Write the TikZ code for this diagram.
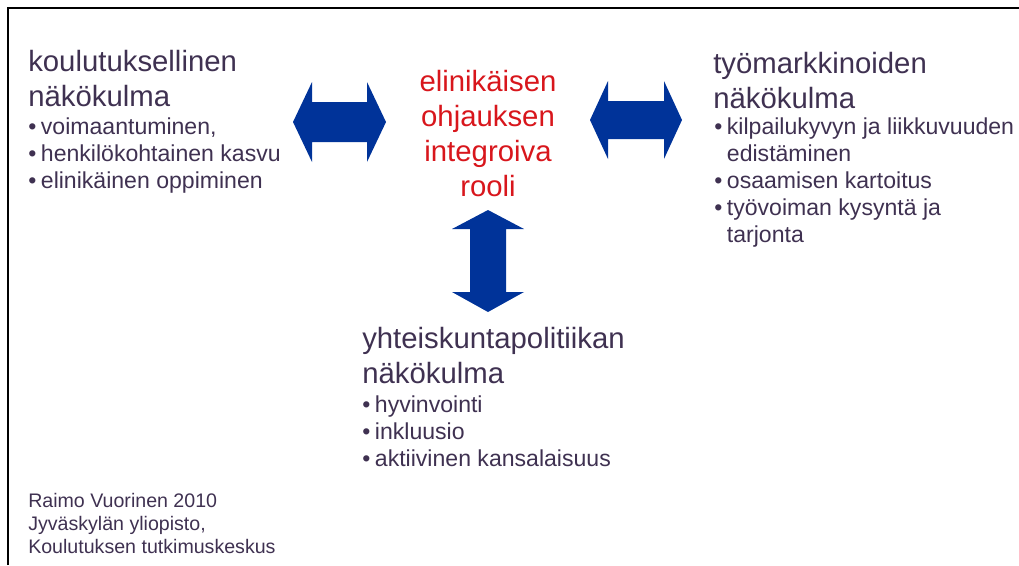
\documentclass[tikz,border=0pt]{standalone}
\usepackage{fontspec}
\setmainfont{Liberation Sans}
\usepackage{xcolor}
\usetikzlibrary{positioning}

\definecolor{textpurple}{HTML}{3F3151}
\definecolor{rolered}{HTML}{D8161C}
\definecolor{arrowblue}{HTML}{003399}

\newcommand{\bul}{\makebox[9.5pt][l]{\textbullet}}
\newcommand{\ind}{\hspace*{9.5pt}}

\begin{document}
\begin{tikzpicture}[x=0.75pt, y=-0.75pt,
    every node/.style={inner sep=0pt, text=textpurple, align=left, anchor=base west},
    heading/.style={font=\fontsize{22}{26.25}\selectfont},
    bullets/.style={font=\fontsize{17.3}{20.1}\selectfont},
    source/.style={font=\fontsize{14.7}{17.25}\selectfont},
    bigarrow/.style={fill=arrowblue}]
    \useasboundingbox (0,0) rectangle (1019,565);
    % frame
    \draw[line width=1.5pt] (7.5,565) -- (7.5,7.5) -- (1019,7.5);

    % centre (nodes sit on the baseline of their last line)
    \node[font=\fontsize{22}{26.25}\selectfont, text=rolered, align=center, anchor=base] (rooli) at (488,196)
        {elinikäisen\\ohjauksen\\integroiva\\rooli};

    % left
    \node[heading] (kouluhead) at (28,106) {koulutuksellinen\\näkökulma};
    \node[bullets] (koululist) at (28,188)
        {\bul voimaantuminen,\\\bul henkilökohtainen kasvu\\\bul elinikäinen oppiminen};

    % right
    \node[heading] (tyohead) at (713,108) {työmarkkinoiden\\näkökulma};
    \node[bullets] (tyolist) at (714,242)
        {\bul kilpailukyvyn ja liikkuvuuden\\\ind edistäminen\\\bul osaamisen kartoitus\\\bul työvoiman kysyntä ja\\\ind tarjonta};

    % bottom
    \node[heading] (yhteishead) at (362,383) {yhteiskuntapolitiikan\\näkökulma};
    \node[bullets] (yhteislist) at (362,466)
        {\bul hyvinvointi\\\bul inkluusio\\\bul aktiivinen kansalaisuus};

    % source
    \node[source] (lahde) at (28,553)
        {Raimo Vuorinen 2010\\Jyväskylän yliopisto,\\Koulutuksen tutkimuskeskus};

    % arrows
    \fill[bigarrow] (293,122) -- (312,82) -- (312,102) -- (367,102) -- (367,82) -- (386,122)
        -- (367,162) -- (367,142) -- (312,142) -- (312,162) -- cycle;
    \fill[bigarrow] (590,120) -- (608,81) -- (608,101) -- (664,101) -- (664,81) -- (682,120)
        -- (664,159) -- (664,139) -- (608,139) -- (608,159) -- cycle;
    \fill[bigarrow] (488,210) -- (524,229) -- (506,229) -- (506,292) -- (524,292) -- (488,312)
        -- (452,292) -- (470,292) -- (470,229) -- (452,229) -- cycle;
\end{tikzpicture}
\end{document}
